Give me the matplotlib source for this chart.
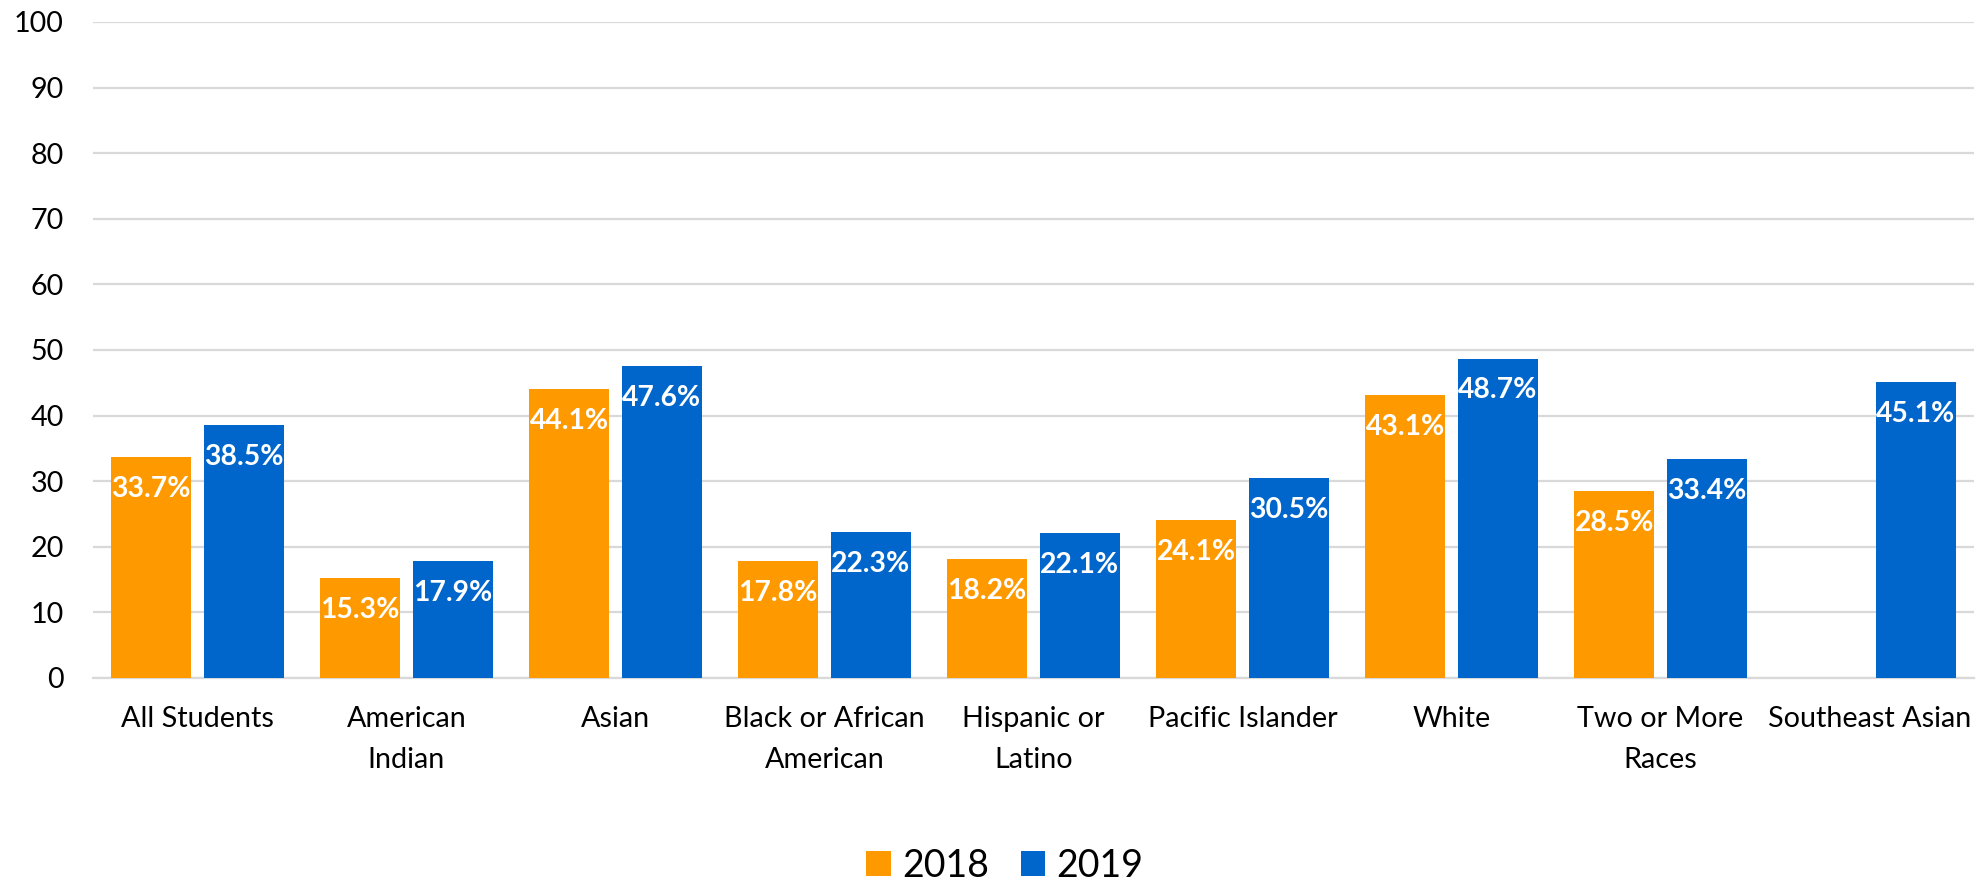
import numpy as np
import matplotlib
matplotlib.use("Agg")
import matplotlib.pyplot as plt

categories = ["All Students", "American\nIndian", "Asian", "Black or African\nAmerican",
              "Hispanic or\nLatino", "Pacific Islander", "White", "Two or More\nRaces",
              "Southeast Asian"]
values_2018 = [33.7, 15.3, 44.1, 17.8, 18.2, 24.1, 43.1, 28.5, np.nan]
values_2019 = [38.5, 17.9, 47.6, 22.3, 22.1, 30.5, 48.7, 33.4, 45.1]
series_labels = ["2018", "2019"]
yticks = [0, 10, 20, 30, 40, 50, 60, 70, 80, 90, 100]

c18 = "#FF9900"
c19 = "#0066CC"
plt.rcParams['font.family'] = ['Lato', 'DejaVu Sans']

fig = plt.figure(figsize=(19.77, 8.82), dpi=100)
ax = fig.add_axes([93/1977, 1-678/882, (1974-93)/1977, (678-22)/882])

x = np.arange(len(categories))
w = 0.383
off = 0.222
b1 = ax.bar(x - off, values_2018, w, color=c18, label=series_labels[0], zorder=3)
b2 = ax.bar(x + off, values_2019, w, color=c19, label=series_labels[1], zorder=3)

for bars, vals in ((b1, values_2018), (b2, values_2019)):
    for xi, v in zip(x, vals):
        if np.isnan(v):
            continue
        xc = xi - off if bars is b1 else xi + off
        ax.annotate(f"{v:.1f}%", (xc, v), xytext=(0, -23), textcoords="offset points",
                    ha="center", va="center", color="white", fontsize=20.3,
                    fontweight="bold", zorder=4)

ax.set_xlim(-0.5, len(categories) - 0.5)
ax.set_ylim(0, 100)
ax.set_yticks(yticks)
ax.set_xticks(x)
ax.set_xticklabels(categories, fontsize=20.7, linespacing=1.72)
ax.tick_params(axis="y", labelsize=20.7, length=0, pad=21)
ax.tick_params(axis="x", length=0, pad=20)
ax.grid(axis="y", color="#d9d9d9", linewidth=1.6, zorder=0)
for s in ["top", "right", "left"]:
    ax.spines[s].set_visible(False)
ax.spines["bottom"].set_color("#d9d9d9")
ax.spines["bottom"].set_linewidth(1.6)

fig.legend(handles=[b1, b2], labels=series_labels, loc="center",
           bbox_to_anchor=(1005/1977, 16/882), ncol=2, frameon=False,
           fontsize=27, handlelength=0.65, handleheight=0.65, handletextpad=0.3,
           columnspacing=0.85)

fig.savefig("out.png", dpi=100)
